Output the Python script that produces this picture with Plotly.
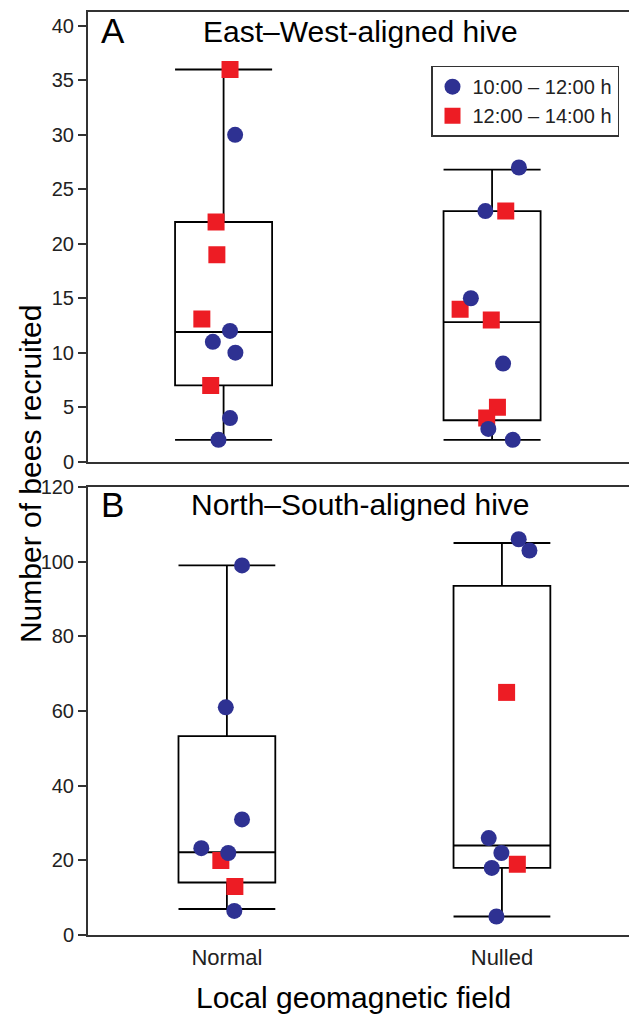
import plotly.graph_objects as go

# ---------------- data ----------------
categories = ["Normal", "Nulled"]
series_names = ["10:00 – 12:00 h", "12:00 – 14:00 h"]

# Panel A: East–West-aligned hive
ew_early_normal = [30, 12, 11, 10, 4, 2]
ew_early_nulled = [27, 23, 15, 9, 3, 2]
ew_late_normal = [36, 22, 19, 13.1, 7]
ew_late_nulled = [23, 14, 13, 5, 4]
ew_box_lower = [2, 2]
ew_box_q1 = [7, 3.8]
ew_box_median = [11.9, 12.8]
ew_box_q3 = [22, 23]
ew_box_upper = [36, 26.8]

# Panel B: North–South-aligned hive
ns_early_normal = [99, 61, 31, 23.3, 22, 6.5]
ns_early_nulled = [106, 103, 26, 22, 18, 5]
ns_late_normal = [20, 13]
ns_late_nulled = [65, 19]
ns_box_lower = [7, 5]
ns_box_q1 = [14.1, 18]
ns_box_median = [22.2, 24]
ns_box_q3 = [53.3, 93.5]
ns_box_upper = [99, 105]

# horizontal jitter of the points (category units)
ew_early_normal_jit = [0.043, 0.024, -0.040, 0.044, 0.024, -0.019]
ew_early_nulled_jit = [0.100, -0.025, -0.079, 0.041, -0.014, 0.077]
ew_late_normal_jit = [0.024, -0.028, -0.025, -0.081, -0.048]
ew_late_nulled_jit = [0.051, -0.119, -0.003, 0.020, -0.020]
ns_early_normal_jit = [0.055, -0.004, 0.055, -0.093, 0.005, 0.027]
ns_early_nulled_jit = [0.061, 0.100, -0.048, -0.002, -0.037, -0.020]
ns_late_normal_jit = [-0.022, 0.029]
ns_late_nulled_jit = [0.017, 0.056]

# ---------------- style ----------------
FONT = "Arial, Liberation Sans, sans-serif"
BLUE = "#2E3192"
RED = "#ED1C24"
AXC = "#333333"
W, H = 629, 1014
# empirical vertical calibration of the photographed page
V_OFF, V_SCALE = 8.0, 0.9845

fig = go.Figure()


def add_panel(xa, ya, lower, q1, med, q3, upper, early, early_jit, late, late_jit,
              box_width, show_legend):
    fig.add_trace(go.Box(
        x=[0, 1], lowerfence=lower, q1=q1, median=med, q3=q3, upperfence=upper,
        width=box_width, whiskerwidth=1, fillcolor="rgba(0,0,0,0)",
        line=dict(color="black", width=1.8), boxpoints=False,
        showlegend=False, hoverinfo="skip", xaxis=xa, yaxis=ya))
    # red (late) drawn first so that blue sits on top
    xs, ys = [], []
    for i, vals in enumerate(late):
        xs += [i + j for j in late_jit[i]]
        ys += list(vals)
    fig.add_trace(go.Scatter(
        x=xs, y=ys, mode="markers", name=series_names[1],
        marker=dict(symbol="square", size=17, color=RED),
        legendgroup="late", legendrank=2, showlegend=show_legend,
        xaxis=xa, yaxis=ya, hoverinfo="skip"))
    xs, ys = [], []
    for i, vals in enumerate(early):
        xs += [i + j for j in early_jit[i]]
        ys += list(vals)
    fig.add_trace(go.Scatter(
        x=xs, y=ys, mode="markers", name=series_names[0],
        marker=dict(symbol="circle", size=16, color=BLUE),
        legendgroup="early", legendrank=1, showlegend=show_legend,
        xaxis=xa, yaxis=ya, hoverinfo="skip"))


add_panel("x", "y", ew_box_lower, ew_box_q1, ew_box_median, ew_box_q3, ew_box_upper,
          [ew_early_normal, ew_early_nulled], [ew_early_normal_jit, ew_early_nulled_jit],
          [ew_late_normal, ew_late_nulled], [ew_late_normal_jit, ew_late_nulled_jit],
          0.3615, True)
add_panel("x2", "y2", ns_box_lower, ns_box_q1, ns_box_median, ns_box_q3, ns_box_upper,
          [ns_early_normal, ns_early_nulled], [ns_early_normal_jit, ns_early_nulled_jit],
          [ns_late_normal, ns_late_nulled], [ns_late_normal_jit, ns_late_nulled_jit],
          0.352, False)


def px_(X):
    return X / W


def yfig(S):
    return (S - V_OFF) / V_SCALE


def py(S):
    return 1 - yfig(S) / H


# panel A: 0 and 40 tick positions (screen px)
a_zero, a_forty = yfig(461.5), yfig(23)
a_top = 0.8
a_range_top = 40 * (a_zero - a_top) / (a_zero - a_forty)

xdom = [px_(88), 1.0]

common_x = dict(showline=True, linecolor=AXC, linewidth=2, mirror=True,
                showgrid=False, zeroline=False)
common_y = dict(showline=True, linecolor=AXC, linewidth=2, showgrid=False,
                zeroline=False, ticks="outside", ticklen=8, tickwidth=1.5,
                tickcolor=AXC, tickfont=dict(family=FONT, size=20, color="#222"))

fig.update_layout(
    width=W, height=H, margin=dict(l=0, r=0, t=0, b=0),
    paper_bgcolor="white", plot_bgcolor="white",
    font=dict(family=FONT, color="black"),
    xaxis=dict(domain=xdom, range=[-0.505, 1.51], anchor="y",
               showticklabels=False, ticks="", **common_x),
    yaxis=dict(domain=[1 - a_zero / H, 1 - a_top / H], range=[0, a_range_top],
               anchor="x", tickvals=[0, 5, 10, 15, 20, 25, 30, 35, 40], **common_y),
    xaxis2=dict(domain=xdom, range=[-0.505, 1.462], anchor="y2",
                tickvals=[0, 1], ticktext=categories, ticks="outside", ticklen=1,
                tickcolor="rgba(0,0,0,0)",
                tickfont=dict(family=FONT, size=22, color="#222"), **common_x),
    yaxis2=dict(domain=[py(938), py(487)], range=[0, 120], anchor="x2",
                tickvals=[0, 20, 40, 60, 80, 100, 120], **common_y),
    showlegend=True,
    legend=dict(x=px_(431), y=py(63), xanchor="left", yanchor="top",
                bgcolor="white", bordercolor=AXC, borderwidth=1.5,
                font=dict(family=FONT, size=20, color="#222"),
                traceorder="normal", tracegroupgap=0),
)

ann = [
    dict(text="A", x=px_(99), y=py(27.5), font=dict(size=35), xanchor="left"),
    dict(text="East–West-aligned hive", x=px_(360), y=py(28.5), font=dict(size=30)),
    dict(text="B", x=px_(99), y=py(504.5), font=dict(size=35), xanchor="left"),
    dict(text="North–South-aligned hive", x=px_(360), y=py(505), font=dict(size=30)),
    dict(text="Number of bees recruited", x=px_(30), y=py(474), textangle=-90,
         font=dict(size=30)),
    dict(text="Local geomagnetic field", x=px_(353), y=py(1000.5), font=dict(size=30)),
]
for a in ann:
    a.setdefault("xanchor", "center")
    a["font"]["family"] = FONT
    a["font"]["color"] = "black"
    fig.add_annotation(xref="paper", yref="paper", yanchor="middle",
                       showarrow=False, **a)

fig.write_html(
    "out.html",
    config={"displayModeBar": False},
    post_script="document.body.style.margin='0px';"
                "document.documentElement.style.overflow='hidden';",
)
